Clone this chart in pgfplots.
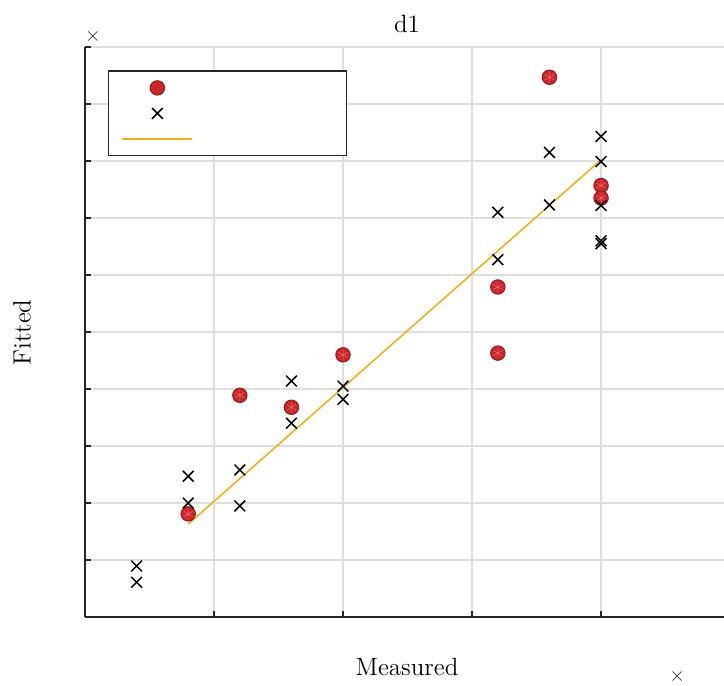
\documentclass[border=0pt]{standalone}
\usepackage{pgfplots}
\pgfplotsset{compat=1.18}
\definecolor{mred}{RGB}{205,38,42}
\definecolor{mredE}{RGB}{150,25,28}
\definecolor{mstar}{RGB}{232,110,110}
\definecolor{myel}{RGB}{237,177,32}
\definecolor{axc}{RGB}{38,38,38}
\newcommand{\lblfont}{\fontsize{12.5pt}{15pt}\selectfont}
\pgfplotsset{
  mylegm/.style={legend image code/.code={\draw[mark repeat=2,mark phase=2,##1] plot coordinates {(0pt,0pt)(17.5pt,0pt)(35pt,0pt)};}},
  mylegl/.style={legend image code/.code={\draw[##1] (0pt,0pt) -- (35pt,0pt);}},
}
\begin{document}
\begin{tikzpicture}
\begin{axis}[
  x=64.5pt, y=28.5pt,
  xmin=0, xmax=4.953, ymin=0, ymax=10,
  axis x line*=bottom, axis y line*=left,
  axis line style={axc, line width=0.6pt, -},
  xtick={1,2,3,4}, ytick={1,2,3,4,5,6,7,8,9,10},
  xticklabels={}, yticklabels={},
  tick align=inside, major tick length=3pt,
  tick style={axc, line width=0.6pt},
  grid=major, grid style={black!13, line width=0.6pt},
  clip=false,
  title={d1},
  title style={at={(axis description cs:0.504,1.0385)}, anchor=center, yshift=-5.5pt, font=\lblfont},
  xlabel={Measured},
  xlabel style={at={(axis description cs:0.504,0)}, anchor=center, yshift=-25pt, font=\lblfont},
  ylabel={Fitted},
  ylabel style={at={(axis description cs:-0.0986,0.499)}, anchor=center, rotate=0, font=\lblfont},
  legend style={draw=axc, line width=0.6pt, at={(axis cs:0.178,9.59)}, anchor=north west,
    inner xsep=6.5pt, inner ysep=2.1pt, row sep=0pt, column sep=0pt,
    nodes={inner sep=0pt, minimum height=12.75pt, minimum width=70pt}},
  legend cell align=left,
]
\coordinate (bl) at (rel axis cs:0,0);
\coordinate (tr) at (rel axis cs:1,1);
% red circles
\addplot[only marks, mark=*, mark size=3.6pt, mark options={fill=mred, draw=mredE, line width=0.5pt}, mylegm]
coordinates {(0.8,1.81) (1.2,3.89) (1.6,3.68) (2.0,4.60) (3.2,5.79) (3.2,4.63) (3.6,9.47) (4.0,7.57) (4.0,7.35)};
\addlegendentry{}
\addplot[only marks, mark=asterisk, mark size=2.6pt, mark options={draw=mstar, line width=0.25pt}, forget plot]
coordinates {(0.8,1.81) (1.2,3.89) (1.6,3.68) (2.0,4.60) (3.2,5.79) (3.2,4.63) (3.6,9.47) (4.0,7.57) (4.0,7.35)};
% crosses
\addplot[only marks, mark=x, mark size=3.8pt, mark options={draw=black, line width=0.75pt}, mylegm]
coordinates {(0.4,0.895) (0.4,0.61) (0.8,2.47) (0.8,2.0) (1.2,2.58) (1.2,1.95) (1.6,4.14) (1.6,3.40)
  (2.0,4.05) (2.0,3.82) (3.2,7.10) (3.2,6.27) (3.6,8.15) (3.6,7.23) (4.0,8.43) (4.0,7.99) (4.0,7.22) (4.0,6.60) (4.0,6.55)};
\addlegendentry{}
% fit line
\addplot[myel, line width=0.8pt, no marks, mylegl]
coordinates {(0.8,1.63) (4.0,8.02)};
\addlegendentry{}
\node[font=\normalsize, text=axc, inner sep=0pt] at (axis cs:0.062,10.19) {$\times$};
\node[font=\normalsize, text=axc, inner sep=0pt] at (axis cs:4.589,-1.035) {$\times$};
\end{axis}
\pgfresetboundingbox
\path ([shift={(-42.5pt,-34pt)}]bl) rectangle ([shift={(0pt,23.5pt)}]tr);
\end{tikzpicture}
\end{document}
